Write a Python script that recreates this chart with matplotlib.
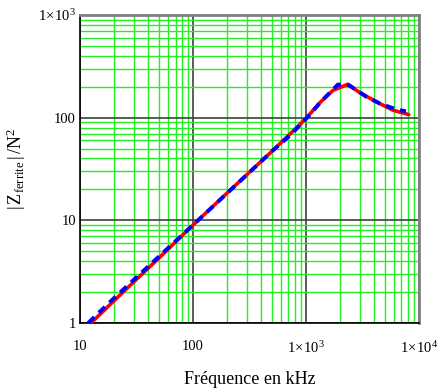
import matplotlib
matplotlib.use("Agg")
import matplotlib.pyplot as plt
from matplotlib.ticker import FixedLocator, LogLocator, NullFormatter

plt.rcParams["font.family"] = ["Liberation Serif", "DejaVu Serif"]
plt.rcParams["mathtext.fontset"] = "custom"
plt.rcParams["mathtext.rm"] = "Liberation Serif"
plt.rcParams["mathtext.it"] = "Liberation Serif"

# red: measured curve, blue: model (dashed)
freq_red = [12.5, 20, 50, 100, 200, 500, 800, 1000, 1150, 1330, 1735, 2350, 3000, 4230, 5900, 8130]
z_red = [1.0, 1.65, 4.3, 9.0, 18.4, 47, 77, 98, 117, 140, 184, 211, 175, 142, 118, 107]

freq_blue = [11.8, 20, 50, 100, 200, 500, 722, 1000, 1400, 1920, 2400, 2890, 3440, 4520, 6340, 7680]
z_blue = [1.0, 1.75, 4.45, 9.0, 18.3, 47, 67, 97, 148, 210, 207, 181, 159, 137, 120, 115]

x_ticks = [10, 100, 1e3, 1e4]
x_labels = ["10", "100", r"$1\!\times\!10^{3}$", r"$1\!\times\!10^{4}$"]
y_ticks = [1, 10, 100, 1e3]
y_labels = ["1", "10", "100", r"$1\!\times\!10^{3}$"]

fig = plt.figure(figsize=(4.4, 3.92), dpi=100)
ax = fig.add_axes([0.182, 0.176, 0.770, 0.786])

ax.set_xscale("log")
ax.set_yscale("log")
ax.set_xlim(10, 1e4)
ax.set_ylim(1, 1e3)

ax.xaxis.set_minor_locator(LogLocator(base=10, subs=range(2, 10)))
ax.yaxis.set_minor_locator(LogLocator(base=10, subs=range(2, 10)))
ax.xaxis.set_minor_formatter(NullFormatter())
ax.yaxis.set_minor_formatter(NullFormatter())
ax.grid(True, which="minor", color="#22f022", lw=1.0)
ax.grid(True, which="major", color="#404040", lw=1.2)
ax.set_axisbelow(True)

ax.plot(freq_red, z_red, color="red", lw=2.6, solid_capstyle="round", zorder=3)
ax.plot(freq_blue, z_blue, color="blue", lw=2.8, dashes=(2.2, 1.6), zorder=4)

ax.xaxis.set_major_locator(FixedLocator(x_ticks))
ax.set_xticklabels(x_labels)
ax.yaxis.set_major_locator(FixedLocator(y_ticks))
ax.set_yticklabels(y_labels)
ax.tick_params(which="both", length=0, labelsize=10.5, colors="black")
ax.tick_params(axis="x", pad=12)
ax.tick_params(axis="y", pad=3)

for side in ["left", "bottom"]:
    ax.spines[side].set_color("black")
    ax.spines[side].set_linewidth(1.2)
for side in ["top", "right"]:
    ax.spines[side].set_color("#808080")
    ax.spines[side].set_linewidth(2.0)

ax.set_xlabel("Fréquence en kHz", fontsize=13, labelpad=11)
ax.set_ylabel(r"$|\,\mathrm{Z}_{\mathrm{ferrite}}\,|\,/\mathrm{N}^{2}$", fontsize=13)
ax.yaxis.set_label_coords(-0.155, 0.5)

fig.savefig("out.png", dpi=100)
